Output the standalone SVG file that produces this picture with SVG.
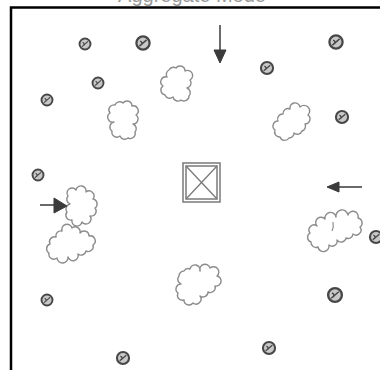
<svg xmlns="http://www.w3.org/2000/svg" xmlns:xlink="http://www.w3.org/1999/xlink" width="380" height="370" viewBox="0 0 380 370">
<style>
.frame{stroke:#000;stroke-width:2.5;fill:none}
.cloud{fill:#fff;stroke:#8c8c8c;stroke-width:1.4;stroke-linejoin:round}
.box{fill:#fff;stroke:#7a7a7a;stroke-width:1.5}
.diag{stroke:#7a7a7a;stroke-width:1.3}
.shaft{stroke:#444;stroke-width:1.6;fill:none}
.head{fill:#3a3a3a;stroke:#3a3a3a;stroke-width:1;stroke-linejoin:round}
.title{font-family:"Liberation Sans",Arial,sans-serif;font-size:20px;fill:#9a9a9a}
</style>
<defs>
<g id="m">
<circle r="5.5" fill="#c8c8c8" stroke="#474747" stroke-width="1.9"/>
<path d="M-3,2.6 L3,-2.6 M-2.4,-1.6 q2.2,0.8 1.2,3.2" stroke="#474747" stroke-width="1.2" fill="none"/>
</g>
<filter id="soft" x="-10%" y="-10%" width="120%" height="120%"><feGaussianBlur stdDeviation="0.35"/></filter>
</defs>
<rect width="380" height="370" fill="#fff"/>
<text class="title" x="192" y="2" text-anchor="middle">Aggregate Mode</text>
<path class="frame" d="M11,370 V7.5 H380"/>
<g filter="url(#soft)">
<g id="marks">
<use id="m1" xlink:href="#m" x="85" y="44"/>
<use id="m2" xlink:href="#m" transform="translate(143,43) scale(1.2)"/>
<use id="m3" xlink:href="#m" x="98" y="83"/>
<use id="m4" xlink:href="#m" x="47" y="100"/>
<use id="m5" xlink:href="#m" transform="translate(267,68) scale(1.1)"/>
<use id="m6" xlink:href="#m" transform="translate(336,42) scale(1.2)"/>
<use id="m7" xlink:href="#m" transform="translate(342,117) scale(1.1)"/>
<use id="m8" xlink:href="#m" x="38" y="175"/>
<use id="m9" xlink:href="#m" transform="translate(376,237) scale(1.1)"/>
<use id="m10" xlink:href="#m" x="47" y="300"/>
<use id="m11" xlink:href="#m" transform="translate(123,358) scale(1.1)"/>
<use id="m12" xlink:href="#m" transform="translate(335,295) scale(1.25)"/>
<use id="m13" xlink:href="#m" transform="translate(269,348) scale(1.1)"/>
</g>
<g id="cloudA"><path class="cloud" d="M123,103 A5 5 0 0 1 132,106 A5 5 0 0 1 136,115 A5 5 0 0 1 133,124 A5 5 0 0 1 135,132 A5 5 0 0 1 128,138 A5 5 0 0 1 120,136 A5 5 0 0 1 112,131 A5 5 0 0 1 114,122 A5 5 0 0 1 110,113 A5 5 0 0 1 115,105 A5 5 0 0 1 123,103 Z"/></g>
<g id="cloudB"><path class="cloud" d="M176,68 A5 5 0 0 1 185,71 A5 5 0 0 1 190,80 A5 5 0 0 1 187,88 A5 5 0 0 1 189,96 A5 5 0 0 1 181,100 A5 5 0 0 1 173,97 A5 5 0 0 1 165,95 A5 5 0 0 1 163,86 A5 5 0 0 1 167,77 A5 5 0 0 1 169,70 A5 5 0 0 1 176,68 Z"/></g>
<g id="cloudC"><path class="cloud" d="M290,109 A5 5 0 0 1 300,107 A5 5 0 0 1 308,115 A5 5 0 0 1 305,124 A5 5 0 0 1 302,131 A5 5 0 0 1 294,133 A5 5 0 0 1 289,138 A5 5 0 0 1 280,137 A5 5 0 0 1 275,130 A5 5 0 0 1 278,121 A5 5 0 0 1 283,114 A5 5 0 0 1 290,109 Z"/></g>
<g id="cloudD"><path class="cloud" d="M76,190 A5 5 0 0 1 86,192 A5 5 0 0 1 93,199 A5 5 0 0 1 95,208 A5 5 0 0 1 90,216 A5 5 0 0 1 82,222 A5 5 0 0 1 72,220 A5 5 0 0 1 67,212 A5 5 0 0 1 70,204 A5 5 0 0 1 68,196 A5 5 0 0 1 76,190 Z"/></g>
<g id="cloudE"><path class="cloud" d="M62,231 A5 5 0 0 1 72,228 A5 5 0 0 1 80,233 A5 5 0 0 1 89,236 A5 5 0 0 1 93,245 A5 5 0 0 1 86,251 A5 5 0 0 1 78,254 A5 5 0 0 1 68,257 A5 5 0 0 1 57,258 A5 5 0 0 1 49,253 A5 5 0 0 1 50,244 A5 5 0 0 1 56,237 A5 5 0 0 1 62,231 Z"/></g>
<g id="cloudF"><path class="cloud" d="M325,219 A5 5 0 0 1 336,217 A5 5 0 0 1 348,215 A5 5 0 0 1 358,218 A5 5 0 0 1 360,227 A5 5 0 0 1 353,234 A5 5 0 0 1 346,238 A5 5 0 0 1 337,240 A5 5 0 0 1 329,245 A5 5 0 0 1 318,247 A5 5 0 0 1 311,242 A5 5 0 0 1 310,233 A5 5 0 0 1 317,226 A5 5 0 0 1 325,219 Z"/><path d="M333,222 q1,5 -1,9" stroke="#8c8c8c" stroke-width="1.2" fill="none"/></g>
<g id="cloudG"><path class="cloud" d="M190,269 A5 5 0 0 1 200,271 A5 5 0 0 1 210,268 A5 5 0 0 1 217,276 A5 5 0 0 1 215,286 A5 5 0 0 1 208,292 A5 5 0 0 1 200,296 A5 5 0 0 1 193,303 A5 5 0 0 1 184,300 A5 5 0 0 1 178,293 A5 5 0 0 1 181,284 A5 5 0 0 1 179,276 A5 5 0 0 1 184,271 A5 5 0 0 1 190,269 Z"/></g>
<g id="box">
<rect class="box" x="183" y="163" width="37" height="39"/>
<rect class="box" x="186" y="166" width="31" height="33" fill="none"/>
<path class="diag" d="M186,166 L217,199 M217,166 L186,199"/>
</g>
<g id="connectors">
<path class="shaft" d="M220,25 V52"/>
<polygon class="head" points="214,50 226,50 220,63"/>
<path class="shaft" d="M339,187 H362"/>
<polygon class="head" points="339,182 339,192 327,187"/>
<path class="shaft" d="M40,205 H56"/>
<polygon class="head" points="54,198 54,213 67,206"/>
</g>
</g>
</svg>
